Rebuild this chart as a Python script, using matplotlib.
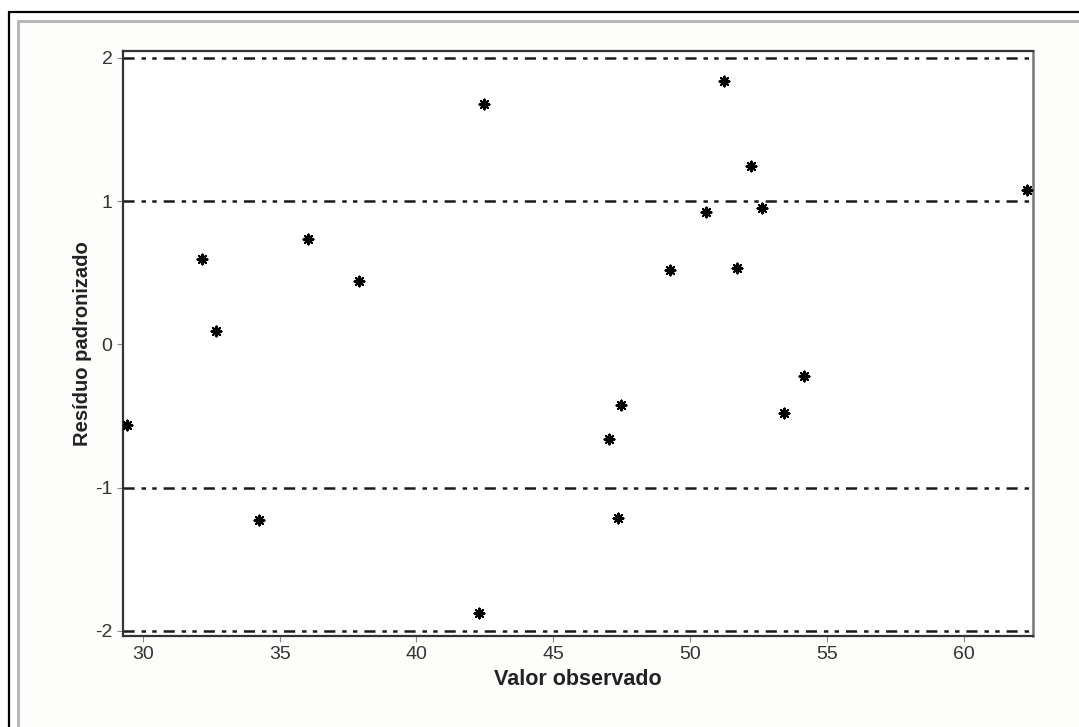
import matplotlib
matplotlib.use("Agg")
import matplotlib.pyplot as plt
from matplotlib.patches import Rectangle

plt.rcParams['font.family'] = ['Liberation Sans', 'DejaVu Sans']
plt.rcParams['axes.unicode_minus'] = False
plt.rcParams['lines.scale_dashes'] = False

# Data
valor_observado = [29.43, 32.18, 32.67, 34.25, 36.03, 37.90, 42.48, 42.30, 47.03, 47.35,
                   47.47, 49.26, 50.57, 51.24, 51.70, 52.22, 52.63, 53.44, 54.16, 62.31]
residuo_padronizado = [-0.565, 0.598, 0.091, -1.229, 0.733, 0.44, 1.675, -1.873, -0.658, -1.213,
                       -0.426, 0.521, 0.924, 1.836, 0.533, 1.243, 0.951, -0.477, -0.223, 1.075]
ref_lines = [2, 1, -1, -2]
x_ticks = [30, 35, 40, 45, 50, 55, 60]
y_ticks = [-2, -1, 0, 1, 2]

W, H = 1079, 727
fig = plt.figure(figsize=(W / 100, H / 100), dpi=100)
fig.patch.set_facecolor('white')

# outer frames
fig.add_artist(Rectangle((9 / W, -0.01), 1.0, 1 - 12 / H + 0.01, transform=fig.transFigure,
                         fill=False, edgecolor='black', linewidth=1.6, zorder=-10))
fig.add_artist(Rectangle((18 / W, -0.01), 1.0, 1 - 21 / H + 0.01, transform=fig.transFigure,
                         fill=True, facecolor='#fdfdfb', edgecolor='#b8b8b8', linewidth=2.2, zorder=-9))

ax = fig.add_axes([123 / W, 1 - 636 / H, (1033 - 123) / W, (636 - 51) / H])
ax.set_zorder(5)
ax.set_facecolor('white')

for yv in ref_lines:
    ax.axhline(yv, color='#1a1a1a', linewidth=1.8, dashes=(8, 5, 3.2, 4.5, 3.2, 5), zorder=1)

ax.scatter(valor_observado, residuo_padronizado, marker=(8, 2, 0), s=50, color='black',
           linewidths=1.5, zorder=3)
ax.scatter(valor_observado, residuo_padronizado, marker='s', s=12, color='black',
           linewidths=0, zorder=3)

ax.set_xlim(29.28, 62.52)
ax.set_ylim(-2.035, 2.047)
ax.set_xticks(x_ticks)
ax.set_yticks(y_ticks)
ax.set_xticklabels([str(t) for t in x_ticks])
ax.set_yticklabels([str(t) for t in y_ticks])

for side in ['left', 'top', 'bottom']:
    ax.spines[side].set_color('#333333')
    ax.spines[side].set_linewidth(1.6)
ax.spines['right'].set_color('#777777')
ax.spines['right'].set_linewidth(1.8)

ax.tick_params(axis='both', direction='out', length=4.5, width=0.8, color='#888888',
               labelsize=14, labelcolor='#333333', pad=3)

ax.set_xlabel('Valor observado', fontsize=15.5, fontweight='bold', color='#222222', labelpad=4)
ax.set_ylabel('Resíduo padronizado', fontsize=14.5, fontweight='bold', color='#222222', labelpad=2)

fig.savefig('out.png', dpi=100)
